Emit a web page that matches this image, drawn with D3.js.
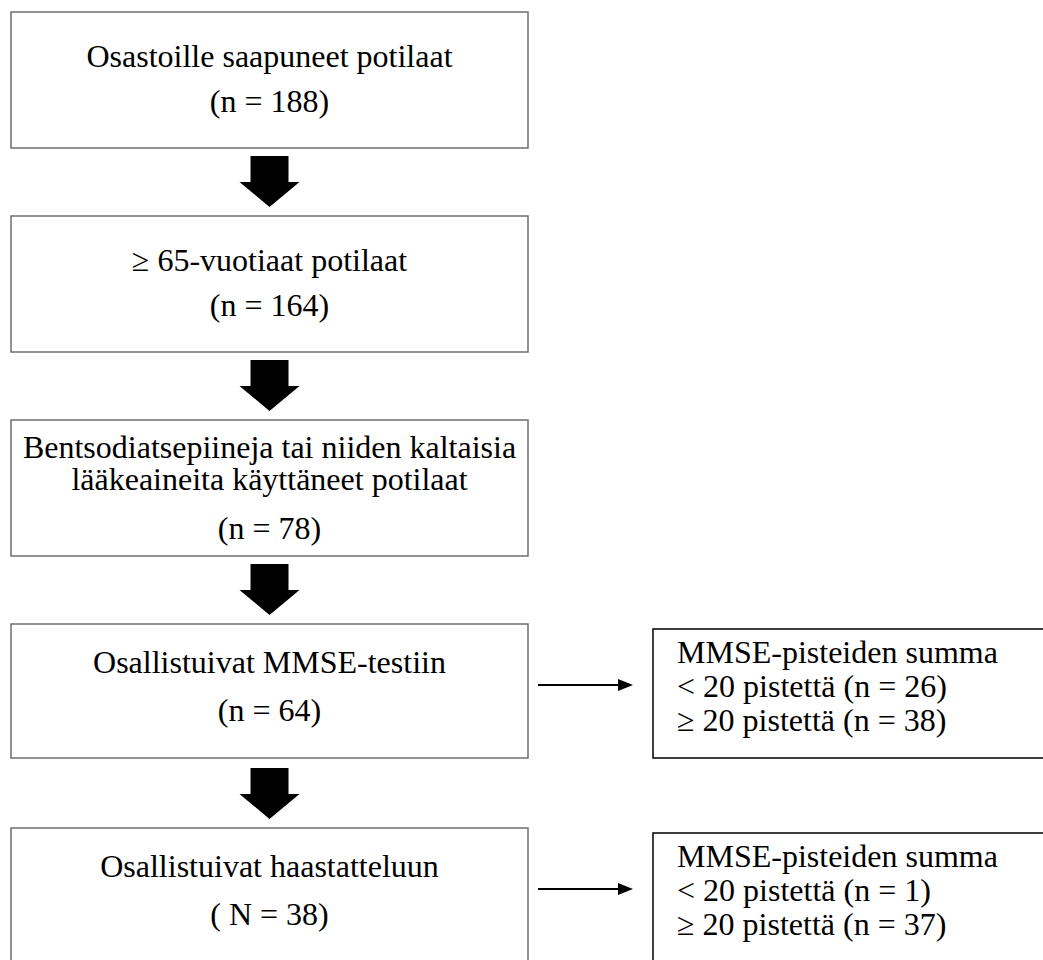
<!DOCTYPE html>
<html>
<head>
<meta charset="utf-8">
<script src="https://cdn.jsdelivr.net/npm/d3@7"></script>
<style>
  body{margin:0;background:#fff;}
</style>
</head>
<body>
<script>
var width=1043,height=960;
var serif="'Liberation Serif','DejaVu Serif',serif";

// flow steps (main column)
var stepLines=[
  ["Osastoille saapuneet potilaat"],
  ["\u2265 65-vuotiaat potilaat"],
  ["Bentsodiatsepiineja tai niiden kaltaisia","l\u00e4\u00e4keaineita k\u00e4ytt\u00e4neet potilaat"],
  ["Osallistuivat MMSE-testiin"],
  ["Osallistuivat haastatteluun"]
];
var stepCounts=["(n = 188)","(n = 164)","(n = 78)","(n = 64)","( N = 38)"];

// side boxes
var sideStep=[3,4];
var sideTitle="MMSE-pisteiden summa";
var lowCounts=[26,1];
var highCounts=[38,37];

var svg=d3.select("body").append("svg")
    .attr("width",width)
    .attr("height",height)
    .style("font-family",serif);

var yStep=d3.scaleLinear().domain([0,5]).range([12,12+5*204]);
var boxH=136, boxX=11, boxW=517, cx=boxX+boxW/2;
var sideX=653, sideW=420;

// main boxes
var steps=svg.append("g").selectAll("g")
    .data(stepLines)
    .enter()
    .append("g")
    .attr("transform",function(d,i){return "translate(0,"+yStep(i)+")";});

steps.append("rect")
    .attr("x",boxX)
    .attr("y",0)
    .attr("width",boxW)
    .attr("height",function(d,i){return i==4?146:(i==3?134:boxH);})
    .attr("fill","none")
    .attr("stroke","#6e6e6e")
    .attr("stroke-width",1.5);

steps.each(function(d,i){
  var g=d3.select(this);
  var lines=d.concat([stepCounts[i]]);
  var base = lines.length==3 ? [38,70,119] : [55,100];
  if(i>=3) base=[49,97];
  g.selectAll("text")
   .data(lines)
   .enter()
   .append("text")
   .attr("x",cx)
   .attr("y",function(t,j){return base[j];})
   .attr("text-anchor","middle")
   .attr("font-family",serif)
   .attr("font-size",32)
   .attr("fill","#000")
   .text(function(t){return t;});
});

// big down arrows between boxes
svg.append("g").selectAll("path")
    .data(d3.range(4))
    .enter()
    .append("path")
    .attr("d",function(i){
      var y0=yStep(i)+boxH+8;
      return "M"+(cx-19)+","+y0+
             "L"+(cx+19)+","+y0+
             "L"+(cx+19)+","+(y0+26)+
             "L"+(cx+30)+","+(y0+26)+
             "L"+cx+","+(y0+51)+
             "L"+(cx-30)+","+(y0+26)+
             "L"+(cx-19)+","+(y0+26)+"Z";
    })
    .attr("fill","#000");

// side boxes with thin arrows
var sides=svg.append("g").selectAll("g")
    .data(sideStep)
    .enter()
    .append("g")
    .attr("transform",function(s){return "translate(0,"+(yStep(s)+5)+")";});

sides.append("rect")
    .attr("x",sideX)
    .attr("y",0)
    .attr("width",sideW)
    .attr("height",function(s,i){return i==0?129:150;})
    .attr("fill","none")
    .attr("stroke","#000")
    .attr("stroke-width",1.5);

sides.append("line")
    .attr("x1",538).attr("x2",620)
    .attr("y1",56).attr("y2",56)
    .attr("stroke","#000")
    .attr("stroke-width",2);
sides.append("path")
    .attr("d","M618,50L633,56L618,62Z")
    .attr("fill","#000");

sides.each(function(s,i){
  var lines=[sideTitle,"< 20 pistett\u00e4 (n = "+lowCounts[i]+")","\u2265 20 pistett\u00e4 (n = "+highCounts[i]+")"];
  d3.select(this).selectAll("text")
    .data(lines)
    .enter()
    .append("text")
    .attr("x",sideX+24)
    .attr("y",function(t,j){return 34+j*34;})
    .attr("font-family",serif)
    .attr("font-size",32)
    .attr("fill","#000")
    .text(function(t){return t;});
});
</script>
</body>
</html>
